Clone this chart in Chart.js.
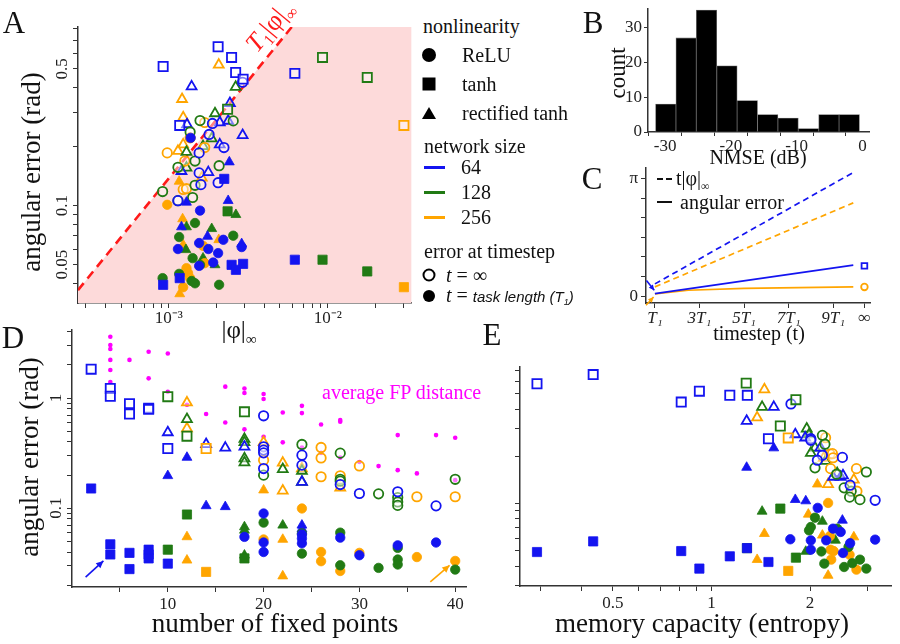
<!DOCTYPE html>
<html>
<head>
<meta charset="utf-8">
<script src="https://cdn.jsdelivr.net/npm/chart.js@4.4.1/dist/chart.umd.min.js"></script>
<style>
body { margin: 0; background: #fff; }
#fig { position: relative; width: 900px; height: 644px; overflow: hidden; font-family: "Liberation Serif", serif; color: #111; }
#fig canvas { position: absolute; }
.t { position: absolute; white-space: nowrap; transform: translate(-50%, -50%); line-height: 1; }
.l { position: absolute; white-space: nowrap; transform: translate(0, -50%); line-height: 1; }
.v { transform: translate(-50%, -50%) rotate(-90deg); }
.s { font-size: 60%; vertical-align: -0.35em; }
.mk { position: absolute; transform: translate(-50%, -50%); }
.ln { position: absolute; width: 21px; height: 2.5px; }
</style>
</head>
<body>
<div id="fig">
  <canvas id="cA" width="420" height="335" style="left:0;top:0"></canvas>
  <canvas id="cB" width="320" height="170" style="left:580px;top:0"></canvas>
  <canvas id="cC" width="320" height="180" style="left:580px;top:160px"></canvas>
  <canvas id="cD" width="475" height="324" style="left:0;top:320px"></canvas>
  <canvas id="cE" width="450" height="324" style="left:450px;top:320px"></canvas>

  <!-- panel letters -->
  <div class="t" style="left:14px;top:22px;font-size:31px">A</div>
  <div class="t" style="left:593px;top:22px;font-size:31px">B</div>
  <div class="t" style="left:592px;top:178px;font-size:31px">C</div>
  <div class="t" style="left:13px;top:337px;font-size:31px">D</div>
  <div class="t" style="left:492px;top:334px;font-size:31px">E</div>

  <!-- panel A texts -->
  <div class="t v" style="left:31px;top:172px;font-size:27px">angular error (rad)</div>
  <div class="t" style="left:239px;top:332px;font-size:25px">|φ|<span class="s">∞</span></div>
  <div class="t" style="left:271px;top:27px;font-size:26px;color:#ff1a1a;transform:translate(-50%,-50%) rotate(-50deg)"><i>T</i><span class="s">1</span>|φ|<span class="s">∞</span></div>

  <!-- panel A legend -->
  <div class="l" style="left:423px;top:26px;font-size:20px">nonlinearity</div>
  <div class="mk" style="left:429px;top:55px;width:14px;height:14px;border-radius:50%;background:#000"></div>
  <div class="l" style="left:462px;top:55px;font-size:20px">ReLU</div>
  <div class="mk" style="left:429px;top:84px;width:13px;height:13px;background:#000"></div>
  <div class="l" style="left:462px;top:84px;font-size:20px">tanh</div>
  <div class="mk" style="left:429px;top:113px;width:0;height:0;border-left:7px solid transparent;border-right:7px solid transparent;border-bottom:12px solid #000"></div>
  <div class="l" style="left:462px;top:113px;font-size:20px">rectified tanh</div>
  <div class="l" style="left:424px;top:146px;font-size:20px">network size</div>
  <div class="ln" style="left:424px;top:166px;background:#1414f0"></div>
  <div class="l" style="left:461px;top:167px;font-size:20px">64</div>
  <div class="ln" style="left:424px;top:191px;background:#217a14"></div>
  <div class="l" style="left:461px;top:192px;font-size:20px">128</div>
  <div class="ln" style="left:424px;top:216px;background:#ffa500"></div>
  <div class="l" style="left:461px;top:217px;font-size:20px">256</div>
  <div class="l" style="left:424px;top:251px;font-size:20px">error at timestep</div>
  <div class="mk" style="left:429px;top:275px;width:9px;height:9px;border:2px solid #000;border-radius:50%"></div>
  <div class="l" style="left:446px;top:275px;font-size:20px"><i>t</i> = ∞</div>
  <div class="mk" style="left:429px;top:296px;width:12px;height:12px;border-radius:50%;background:#000"></div>
  <div class="l" style="left:446px;top:296px;font-size:20px"><i>t</i> = <span style="font-family:'Liberation Sans',sans-serif;font-style:italic;font-size:15px">task length (T<span class="s">1</span>)</span></div>

  <!-- panel B texts -->
  <div class="t v" style="left:617px;top:73px;font-size:23px">count</div>
  <div class="t" style="left:758px;top:157px;font-size:20px">NMSE (dB)</div>

  <!-- panel C texts -->
  <div style="position:absolute;left:657px;top:178px;width:6px;height:2px;background:#111"></div>
  <div style="position:absolute;left:666px;top:178px;width:6px;height:2px;background:#111"></div>
  <div class="l" style="left:676px;top:180px;font-size:20px">t|φ|<span class="s">∞</span></div>
  <div style="position:absolute;left:657px;top:201px;width:15px;height:2px;background:#111"></div>
  <div class="l" style="left:680px;top:202px;font-size:20px">angular error</div>
  <div class="t" style="left:759px;top:333px;font-size:20px">timestep (t)</div>

  <!-- panel D / E texts -->
  <div class="t v" style="left:29px;top:457px;font-size:27px">angular error (rad)</div>
  <div class="t" style="left:275px;top:623px;font-size:27px">number of fixed points</div>
  <div class="l" style="left:322px;top:392px;font-size:20px;color:#ff00ff">average FP distance</div>
  <div class="t" style="left:702px;top:623px;font-size:27px">memory capacity (entropy)</div>
</div>

<script>
// ---------- panel A : angular error vs |phi|_inf ----------
var aXMin = 2.68e-4, aXMax = 0.0337, aYMin = 0.0318, aYMax = 0.818;
var aXLabels = [[1e-3, '10⁻³'], [1e-2, '10⁻²']];
var aYLabels = [[0.05, '0.05'], [0.1, '0.1'], [0.5, '0.5']];
var aLineX = [2.68e-4, 5.93e-3];
var aLineY = [0.037, 0.818];
var aShadeX = [2.68e-4, 5.93e-3, 0.0337];
var aShadeY = [0.037, 0.818, 0.818];

var aBlueOpenSq = [[9.2e-4,0.514],[2.04e-3,0.648],[2.48e-3,0.572],[2.63e-3,0.479],[2.93e-3,0.443],[6.2e-3,0.474],[1.17e-3,0.257]];
var aBlueOpenCi = [[2.91e-3,0.427],[1.88e-3,0.263],[1.79e-3,0.231],[1.55e-3,0.186],[2.22e-3,0.198],[1.55e-3,0.147],[2.04e-3,0.131],[1.59e-3,0.128],[1.14e-3,0.106]];
var aBlueOpenTr = [[1.39e-3,0.406],[2.42e-3,0.334],[1.30e-3,0.260],[2.09e-3,0.266],[2.36e-3,0.271],[2.91e-3,0.229],[2.09e-3,0.205],[1.20e-3,0.150],[1.77e-3,0.148]];
var aBlueFillCi = [[1.37e-3,0.222],[1.57e-3,0.0943],[2.20e-3,0.0669],[1.55e-3,0.0644],[1.14e-3,0.060],[1.77e-3,0.060],[2.04e-3,0.0572],[2.87e-3,0.0614],[1.90e-3,0.0512],[1.55e-3,0.0492]];
var aBlueFillSq = [[2.23e-3,0.137],[2.48e-3,0.0498],[2.64e-3,0.047],[2.93e-3,0.0504],[6.2e-3,0.0529],[9.2e-4,0.0394],[1.17e-3,0.0426]];
var aBlueFillTr = [[2.40e-3,0.167],[1.29e-3,0.104],[2.36e-3,0.106],[1.20e-3,0.0778],[1.75e-3,0.0696],[2.87e-3,0.0638]];
var aGreenOpenCi = [[1.57e-3,0.272],[2.54e-3,0.271],[1.36e-3,0.238],[1.46e-3,0.169],[2.07e-3,0.160],[9.13e-4,0.118],[1.14e-3,0.106],[1.41e-3,0.110],[1.46e-3,0.127],[1.14e-3,0.157]];
var aGreenOpenTr = [[2.63e-3,0.404],[1.95e-3,0.296],[1.86e-3,0.220],[1.29e-3,0.188],[1.64e-3,0.201],[1.29e-3,0.156]];
var aGreenOpenSq = [[2.34e-3,0.311],[9.26e-3,0.572],[1.77e-2,0.452]];
var aGreenFillCi = [[1.46e-3,0.0815],[1.16e-3,0.0691],[2.54e-3,0.0702],[1.41e-3,0.0539],[1.57e-3,0.0498],[1.16e-3,0.0448],[9.13e-4,0.0426],[1.39e-3,0.0412],[1.46e-3,0.0401],[2.07e-3,0.0394]];
var aGreenFillSq = [[2.34e-3,0.0935],[9.26e-3,0.0529],[1.77e-2,0.0461]];
var aGreenFillTr = [[2.64e-3,0.0899],[1.29e-3,0.0778],[1.86e-3,0.0762],[1.28e-3,0.0595],[1.64e-3,0.0539],[1.95e-3,0.0498]];
var aOrangeOpenCi = [[1.68e-3,0.266],[1.36e-3,0.222],[9.76e-4,0.186],[1.68e-3,0.198],[1.23e-3,0.121],[1.29e-3,0.122],[1.26e-3,0.169]];
var aOrangeOpenTr = [[2.06e-3,0.524],[1.21e-3,0.350],[1.23e-3,0.282],[1.23e-3,0.205],[1.14e-3,0.190],[1.61e-3,0.139]];
var aOrangeOpenSq = [[3.01e-2,0.257]];
var aOrangeFillCi = [[9.76e-4,0.101],[1.64e-3,0.0623],[1.68e-3,0.0508],[1.29e-3,0.0479],[1.32e-3,0.0452],[1.36e-3,0.0426],[1.23e-3,0.0383]];
var aOrangeFillTr = [[1.16e-3,0.133],[1.22e-3,0.0855],[2.06e-3,0.0669],[1.17e-3,0.0354],[1.23e-3,0.063]];
var aOrangeFillSq = [[3.01e-2,0.0383]];

// ---------- panel B : NMSE histogram ----------
var bBinCenters = [-29.9, -26.8, -23.7, -20.6, -17.5, -14.4, -11.3, -8.2, -5.1, -2.0];
var bCounts = [8, 27, 35, 19, 9, 5, 4, 1, 5, 5];
var bXTicks = [-30, -25, -20, -15, -10, -5, 0];
var bXLabels = [[-30, '-30'], [-20, '-20'], [-10, '-10'], [0, '0']];
var bYTicks = [0, 10, 20, 30];
var bYLabels = [[0, '0'], [10, '10'], [20, '20'], [30, '30']];

// ---------- panel C : error growth over timesteps (x in units of T1) ----------
var cXTicks = [1, 3, 5, 7, 9, 10.4];
var cXLabels = [[1, 'T₁'], [3, '3T₁'], [5, '5T₁'], [7, '7T₁'], [9, '9T₁'], [10.4, '∞']];
var cYTicks = [0, 0.5236, 1.0472, 1.5708, 2.0944, 2.618, 3.1416];
var cYLabels = [[0, '0'], [3.1416, 'π']];
var cPhiBlue = [[1, 0.33], [9.9, 3.3]];
var cPhiOrange = [[1, 0.25], [9.9, 2.49]];
var cErrBlue = [[1, 0.07], [9.9, 0.83]];
var cErrOrange = [[1, 0.06], [2.5, 0.16], [5, 0.21], [9.9, 0.25]];
var cInfBlue = [[10.4, 0.81]];
var cInfOrange = [[10.4, 0.248]];

// ---------- panel D : angular error vs number of fixed points ----------
var dXTicks = [5, 10, 15, 20, 25, 30, 35, 40];
var dXLabels = [[10, '10'], [20, '20'], [30, '30'], [40, '40']];
var dYLabels = [[0.1, '0.1'], [1, '1']];
var dFpDist = [[4,3.6],[4,3.03],[4,2.79],[4,2.22],[4,1.80],[4,1.40],[6,2.22],[8,2.63],[8,1.51],[10,2.54],[10,1.14],[12,0.87],[14,0.717],[16,1.27],[16,0.60],[18,1.22],[18,1.11],[18,0.52],[20,1.09],[20,0.98],[20,0.445],[22,0.74],[22,0.396],[24,0.85],[24,0.73],[24,0.355],[26,0.576],[26,0.318],[28,0.631],[28,0.61],[28,0.289],[30,0.263],[32,0.241],[34,0.461],[34,0.2215],[36,0.207],[38,0.461],[40,0.436],[40,0.1797]];
var dBlueOpenSq = [[2,1.83],[4,1.22],[4,1.04],[6,0.89],[6,0.717],[8,0.81],[8,0.79],[10,0.348]];
var dBlueFillSq = [[2,0.151],[4,0.047],[4,0.038],[6,0.0393],[6,0.028],[8,0.042],[8,0.038],[8,0.035],[10,0.0314]];
var dGreenOpenSq = [[10,1.03],[12,0.451],[18,0.75]];
var dGreenFillSq = [[10,0.042],[12,0.0876],[18,0.035]];
var dOrangeOpenSq = [[14,0.348]];
var dOrangeFillSq = [[14,0.0264]];
var dBlueOpenTr = [[10,0.488],[14,0.381],[16,0.353],[18,0.361],[24,0.173]];
var dBlueFillTr = [[10,0.197],[12,0.289],[14,0.105],[16,0.103],[24,0.070],[24,0.065]];
var dGreenOpenTr = [[12,0.643],[18,0.424],[18,0.396],[18,0.283],[18,0.26],[22,0.226],[24,0.218],[24,0.173]];
var dGreenFillTr = [[18,0.0676],[18,0.063],[18,0.0374],[22,0.070]];
var dOrangeOpenTr = [[12,0.91],[12,0.53],[20,0.396],[22,0.258],[22,0.144],[24,0.229],[28,0.153]];
var dOrangeFillTr = [[12,0.0549],[12,0.0337],[20,0.146],[22,0.052],[22,0.0242]];
var dBlueOpenCi = [[20,0.69],[20,0.361],[20,0.337],[20,0.318],[20,0.229],[24,0.303],[24,0.246],[28,0.164],[30,0.136],[34,0.141],[38,0.105]];
var dBlueFillCi = [[18,0.0549],[20,0.0895],[20,0.0488],[20,0.040],[24,0.0577],[24,0.053],[24,0.048],[28,0.054],[30,0.0374],[34,0.046],[38,0.0488]];
var dGreenOpenCi = [[20,0.1995],[24,0.379],[28,0.316],[28,0.183],[28,0.176],[32,0.135],[34,0.125],[34,0.114],[34,0.106],[40,0.183]];
var dGreenFillCi = [[20,0.074],[24,0.059],[24,0.0387],[28,0.060],[28,0.0303],[32,0.0287],[34,0.0436],[34,0.0342],[34,0.0308],[40,0.0277]];
var dOrangeOpenCi = [[20,0.273],[26,0.356],[26,0.286],[26,0.193],[28,0.197],[30,0.242],[36,0.127],[40,0.127]];
var dOrangeFillCi = [[20,0.052],[24,0.0994],[26,0.040],[26,0.033],[28,0.0269],[30,0.0393],[36,0.036],[40,0.0332]];

// ---------- panel E : angular error vs memory capacity ----------
var eXLabels = [[0.5, '0.5'], [1, '1'], [2, '2']];
var eBlueOpenSq = [[0.293,0.58],[0.435,0.663],[0.808,0.443],[0.918,0.52],[1.137,0.49],[1.286,0.489],[1.492,0.259]];
var eBlueFillSq = [[0.293,0.0492],[0.435,0.0575],[0.808,0.0499],[0.918,0.0386],[1.137,0.0462],[1.492,0.0425],[1.283,0.0521]];
var eGreenOpenSq = [[1.276,0.585],[1.81,0.459],[1.622,0.312]];
var eGreenFillSq = [[1.622,0.093],[1.283,0.0521],[1.81,0.0453]];
var eOrangeOpenSq = [[1.715,0.262]];
var eOrangeFillSq = [[1.715,0.0373]];
var eBlueOpenTr = [[1.549,0.412],[1.28,0.336],[1.802,0.276],[1.932,0.263],[2.15,0.227],[2.35,0.148],[2.48,0.148],[2.52,0.151]];
var eBlueFillTr = [[1.549,0.226],[1.28,0.17],[1.802,0.106],[1.94,0.104],[2.51,0.0783]];
var eGreenOpenTr = [[1.427,0.412],[1.953,0.3],[1.985,0.276],[2.07,0.227],[2.01,0.21],[2.23,0.187],[2.42,0.156]];
var eGreenFillTr = [[1.427,0.0893],[2.18,0.0771],[2.39,0.0584],[1.94,0.0496]];
var eOrangeOpenTr = [[1.45,0.533],[1.378,0.353],[2.2,0.195],[2.72,0.142],[2.27,0.133]];
var eOrangeFillTr = [[2.105,0.133],[1.975,0.0855],[2.72,0.0613],[1.45,0.0644],[2.18,0.0629],[1.378,0.044],[2.27,0.0349]];
var eBlueOpenCi = [[1.748,0.431],[2.01,0.259],[2.01,0.253],[2.18,0.203],[2.105,0.189],[2.51,0.197],[2.65,0.131],[3.16,0.105]];
var eBlueFillCi = [[2.11,0.094],[2.48,0.066],[2.35,0.0693],[1.74,0.0593],[2.01,0.0584],[2.24,0.0584],[3.16,0.059],[2.65,0.056],[2.01,0.0509],[2.52,0.0485]];
var eGreenOpenCi = [[2.18,0.272],[2.22,0.239],[2.07,0.169],[2.41,0.154],[2.97,0.159],[2.54,0.126],[2.67,0.12],[2.64,0.11],[2.84,0.106]];
var eGreenFillCi = [[2.07,0.0814],[2.01,0.071],[1.985,0.0676],[2.42,0.0693],[2.62,0.053],[2.165,0.0496],[2.21,0.0415],[2.69,0.0418],[2.84,0.044],[2.54,0.0395],[2.97,0.0386]];
var eOrangeOpenCi = [[2.23,0.263],[2.3,0.207],[2.34,0.208],[2.35,0.196],[2.31,0.167],[2.77,0.167],[2.78,0.12]];
var eOrangeFillCi = [[2.27,0.101],[2.3,0.0622],[2.31,0.0509],[2.36,0.0499],[2.64,0.0473],[2.32,0.044],[2.77,0.038]];

// ---------- helpers ----------
var FONT = '"Liberation Serif", serif';
var BLUE = '#1414f0', GREEN = '#217a14', ORANGE = '#ffa500', PINK = '#ff00ff';
var SZ = { circle: 4.7, rect: 6.5, triangle: 5.7 };

Chart.defaults.font.family = FONT;
Chart.defaults.color = '#222';

function xy(arr) {
    return arr.map(function(p) { return { x: p[0], y: p[1] }; });
}
function zip(xs, ys) {
    return xs.map(function(x, i) { return { x: x, y: ys[i] }; });
}
function mark(arr, color, shape, open, k) {
    return {
        type: 'scatter', data: xy(arr), pointStyle: shape, pointRadius: SZ[shape] * (k || 1),
        borderColor: color, backgroundColor: open ? 'rgba(255,255,255,0.45)' : color,
        borderWidth: open ? 1.8 : 0.8, order: open ? 1 : 0
    };
}
function logTicks(lo, hi) {
    var out = [];
    for (var k = Math.floor(Math.log10(lo)); k <= Math.ceil(Math.log10(hi)); k++) {
        for (var m = 1; m < 10; m++) {
            var v = m * Math.pow(10, k);
            if (v >= lo && v <= hi) out.push(v);
        }
    }
    return out;
}
function labelFor(v, labels) {
    if (!labels) return '';
    for (var i = 0; i < labels.length; i++) {
        if (Math.abs(labels[i][0] - v) <= Math.abs(labels[i][0]) * 1e-6 + 1e-12) return labels[i][1];
    }
    return '';
}
function mkAxis(o) {
    var horiz = o.pos === 'bottom';
    return {
        type: o.type, position: o.pos, min: o.min, max: o.max, offset: false,
        afterBuildTicks: function(s) { s.ticks = o.ticks.map(function(v) { return { value: v }; }); },
        afterFit: function(s) {
            if (horiz) s.height = o.size; else s.width = o.size;
            s.paddingTop = 0; s.paddingBottom = 0; s.paddingLeft = 0; s.paddingRight = 0;
        },
        ticks: {
            autoSkip: false, maxRotation: 0, minRotation: 0, padding: o.pad == null ? 3 : o.pad,
            color: '#222', font: { family: FONT, size: o.fs || 17, style: o.style || 'normal' },
            callback: function(v) { return labelFor(v, o.labels); }
        },
        grid: { display: true, drawOnChartArea: false, drawTicks: true, tickLength: o.tl || 5, tickColor: '#333', tickWidth: 1 },
        border: { display: true, color: '#333', width: 1.5 }
    };
}
function baseOpts(pad, x, y, plugins) {
    var p = { legend: { display: false }, tooltip: { enabled: false } };
    for (var key in plugins) p[key] = plugins[key];
    return {
        responsive: false, animation: false, events: [],
        layout: { padding: pad },
        scales: { x: x, y: y },
        plugins: p
    };
}

// y tick labels drawn turned by 90 degrees, at the scale's own positions
var rotLabels = {
    id: 'rotLabels',
    afterDraw: function(chart, args, opts) {
        if (!opts || !opts.vals) return;
        var s = chart.scales.y, ctx = chart.ctx;
        ctx.save();
        ctx.font = (opts.size || 17) + 'px ' + FONT;
        ctx.fillStyle = '#222';
        ctx.textAlign = 'center';
        ctx.textBaseline = 'middle';
        opts.vals.forEach(function(l) {
            ctx.save();
            ctx.translate(s.right - opts.offset, s.getPixelForValue(l[0]));
            ctx.rotate(-Math.PI / 2);
            ctx.fillText(l[1], 0, 0);
            ctx.restore();
        });
        ctx.restore();
    }
};
// small arrows given in data coordinates
var arrows = {
    id: 'arrows',
    afterDatasetsDraw: function(chart, args, opts) {
        if (!opts || !opts.list) return;
        var xs = chart.scales.x, ys = chart.scales.y, ctx = chart.ctx;
        opts.list.forEach(function(a) {
            var x0 = xs.getPixelForValue(a.from[0]), y0 = ys.getPixelForValue(a.from[1]);
            var x1 = xs.getPixelForValue(a.to[0]), y1 = ys.getPixelForValue(a.to[1]);
            var ang = Math.atan2(y1 - y0, x1 - x0), h = a.head || 7;
            ctx.save();
            ctx.strokeStyle = a.color; ctx.fillStyle = a.color; ctx.lineWidth = 1.6;
            ctx.beginPath(); ctx.moveTo(x0, y0); ctx.lineTo(x1, y1); ctx.stroke();
            ctx.beginPath(); ctx.moveTo(x1, y1);
            ctx.lineTo(x1 - h * Math.cos(ang - 0.45), y1 - h * Math.sin(ang - 0.45));
            ctx.lineTo(x1 - h * Math.cos(ang + 0.45), y1 - h * Math.sin(ang + 0.45));
            ctx.closePath(); ctx.fill();
            ctx.restore();
        });
    }
};
Chart.register(rotLabels, arrows);

// ---------- A ----------
new Chart(document.getElementById('cA'), {
    type: 'scatter',
    data: { datasets: [
        mark(aBlueFillSq, BLUE, 'rect', false), mark(aGreenFillSq, GREEN, 'rect', false), mark(aOrangeFillSq, ORANGE, 'rect', false),
        mark(aBlueFillCi, BLUE, 'circle', false), mark(aGreenFillCi, GREEN, 'circle', false), mark(aOrangeFillCi, ORANGE, 'circle', false),
        mark(aBlueFillTr, BLUE, 'triangle', false), mark(aGreenFillTr, GREEN, 'triangle', false), mark(aOrangeFillTr, ORANGE, 'triangle', false),
        mark(aBlueOpenSq, BLUE, 'rect', true), mark(aGreenOpenSq, GREEN, 'rect', true), mark(aOrangeOpenSq, ORANGE, 'rect', true),
        mark(aBlueOpenCi, BLUE, 'circle', true), mark(aGreenOpenCi, GREEN, 'circle', true), mark(aOrangeOpenCi, ORANGE, 'circle', true),
        mark(aBlueOpenTr, BLUE, 'triangle', true), mark(aGreenOpenTr, GREEN, 'triangle', true), mark(aOrangeOpenTr, ORANGE, 'triangle', true),
        { type: 'line', data: zip(aLineX, aLineY), borderColor: '#ff1a1a', borderWidth: 2.6, borderDash: [9, 6], pointRadius: 0, fill: false, order: 5 },
        { type: 'line', data: zip(aShadeX, aShadeY), borderWidth: 0, borderColor: 'rgba(0,0,0,0)', pointRadius: 0, fill: 'start', backgroundColor: '#fddada', order: 10 }
    ] },
    options: baseOpts({ left: 0, top: 27, right: 8, bottom: 0 },
        mkAxis({ type: 'logarithmic', pos: 'bottom', min: aXMin, max: aXMax, size: 32, ticks: logTicks(aXMin, aXMax), labels: aXLabels, pad: 0 }),
        mkAxis({ type: 'logarithmic', pos: 'left', min: aYMin, max: aYMax, size: 78, ticks: logTicks(aYMin, aYMax) }),
        { rotLabels: { vals: aYLabels, offset: 15, size: 17 } })
});

// ---------- B ----------
new Chart(document.getElementById('cB'), {
    type: 'bar',
    data: { datasets: [{
        data: zip(bBinCenters, bCounts), backgroundColor: '#000', borderColor: '#666', borderWidth: 0.8,
        barPercentage: 1, categoryPercentage: 1
    }] },
    options: baseOpts({ left: 0, top: 9, right: 31, bottom: 8 },
        mkAxis({ type: 'linear', pos: 'bottom', min: -32.6, max: 1.0, size: 30, ticks: bXTicks, labels: bXLabels, pad: 0, tl: 4 }),
        mkAxis({ type: 'linear', pos: 'left', min: 0, max: 35.3, size: 68, ticks: bYTicks, labels: bYLabels, pad: 2, tl: 4 }),
        {})
});

// ---------- C ----------
function cLine(arr, color, dashed) {
    return { type: 'line', data: xy(arr), borderColor: color, borderWidth: 1.7, borderDash: dashed ? [6, 4] : [], pointRadius: 0, fill: false, order: 2 };
}
new Chart(document.getElementById('cC'), {
    type: 'scatter',
    data: { datasets: [
        cLine(cPhiBlue, BLUE, true), cLine(cPhiOrange, ORANGE, true),
        cLine(cErrBlue, BLUE, false), cLine(cErrOrange, ORANGE, false),
        mark(cInfBlue, BLUE, 'rect', true, 0.62), mark(cInfOrange, ORANGE, 'circle', true, 0.7)
    ] },
    options: baseOpts({ left: 0, top: 8, right: 30, bottom: 7 },
        mkAxis({ type: 'linear', pos: 'bottom', min: 0.6, max: 10.65, size: 30, ticks: cXTicks, labels: cXLabels, pad: 0, style: 'italic' }),
        mkAxis({ type: 'linear', pos: 'left', min: -0.18, max: 3.42, size: 66, ticks: cYTicks, labels: cYLabels, pad: 3 }),
        { arrows: { list: [
            { from: [0.62, 0.42], to: [0.97, 0.16], color: BLUE, head: 6 },
            { from: [0.6, -0.24], to: [0.94, -0.02], color: ORANGE, head: 6 }
        ] } })
});

// ---------- D ----------
var dYMin = 0.01925, dYMax = 4.15;
new Chart(document.getElementById('cD'), {
    type: 'scatter',
    data: { datasets: [
        { type: 'scatter', data: xy(dFpDist), pointStyle: 'circle', pointRadius: 2.3, backgroundColor: PINK, borderColor: PINK, borderWidth: 0, order: 3 },
        mark(dBlueFillSq, BLUE, 'rect', false), mark(dGreenFillSq, GREEN, 'rect', false), mark(dOrangeFillSq, ORANGE, 'rect', false),
        mark(dBlueFillCi, BLUE, 'circle', false), mark(dGreenFillCi, GREEN, 'circle', false), mark(dOrangeFillCi, ORANGE, 'circle', false),
        mark(dBlueFillTr, BLUE, 'triangle', false), mark(dGreenFillTr, GREEN, 'triangle', false), mark(dOrangeFillTr, ORANGE, 'triangle', false),
        mark(dBlueOpenSq, BLUE, 'rect', true), mark(dGreenOpenSq, GREEN, 'rect', true), mark(dOrangeOpenSq, ORANGE, 'rect', true),
        mark(dBlueOpenCi, BLUE, 'circle', true), mark(dGreenOpenCi, GREEN, 'circle', true), mark(dOrangeOpenCi, ORANGE, 'circle', true),
        mark(dBlueOpenTr, BLUE, 'triangle', true), mark(dGreenOpenTr, GREEN, 'triangle', true), mark(dOrangeOpenTr, ORANGE, 'triangle', true)
    ] },
    options: baseOpts({ left: 0, top: 10, right: 5, bottom: 27 },
        mkAxis({ type: 'linear', pos: 'bottom', min: 0, max: 41.2, size: 30, ticks: dXTicks, labels: dXLabels, pad: 2 }),
        mkAxis({ type: 'logarithmic', pos: 'left', min: dYMin, max: dYMax, size: 72, ticks: logTicks(dYMin, dYMax) }),
        { rotLabels: { vals: dYLabels, offset: 15, size: 17 },
          arrows: { list: [
            { from: [1.42, 0.0237], to: [3.28, 0.0332], color: BLUE, head: 8 },
            { from: [37.4, 0.0214], to: [39.41, 0.0303], color: ORANGE, head: 8 }
          ] } })
});

// ---------- E ----------
var eXMin = 0.26, eXMax = 3.55, eYMin = 0.0299, eYMax = 0.741;
new Chart(document.getElementById('cE'), {
    type: 'scatter',
    data: { datasets: [
        mark(eBlueFillSq, BLUE, 'rect', false), mark(eGreenFillSq, GREEN, 'rect', false), mark(eOrangeFillSq, ORANGE, 'rect', false),
        mark(eBlueFillCi, BLUE, 'circle', false), mark(eGreenFillCi, GREEN, 'circle', false), mark(eOrangeFillCi, ORANGE, 'circle', false),
        mark(eBlueFillTr, BLUE, 'triangle', false), mark(eGreenFillTr, GREEN, 'triangle', false), mark(eOrangeFillTr, ORANGE, 'triangle', false),
        mark(eBlueOpenSq, BLUE, 'rect', true), mark(eGreenOpenSq, GREEN, 'rect', true), mark(eOrangeOpenSq, ORANGE, 'rect', true),
        mark(eBlueOpenCi, BLUE, 'circle', true), mark(eGreenOpenCi, GREEN, 'circle', true), mark(eOrangeOpenCi, ORANGE, 'circle', true),
        mark(eBlueOpenTr, BLUE, 'triangle', true), mark(eGreenOpenTr, GREEN, 'triangle', true), mark(eOrangeOpenTr, ORANGE, 'triangle', true)
    ] },
    options: baseOpts({ left: 0, top: 47, right: 5, bottom: 28 },
        mkAxis({ type: 'logarithmic', pos: 'bottom', min: eXMin, max: eXMax, size: 30, ticks: logTicks(eXMin, eXMax), labels: eXLabels, pad: 2 }),
        mkAxis({ type: 'logarithmic', pos: 'left', min: eYMin, max: eYMax, size: 70, ticks: logTicks(eYMin, eYMax) }),
        {})
});
</script>
</body>
</html>
